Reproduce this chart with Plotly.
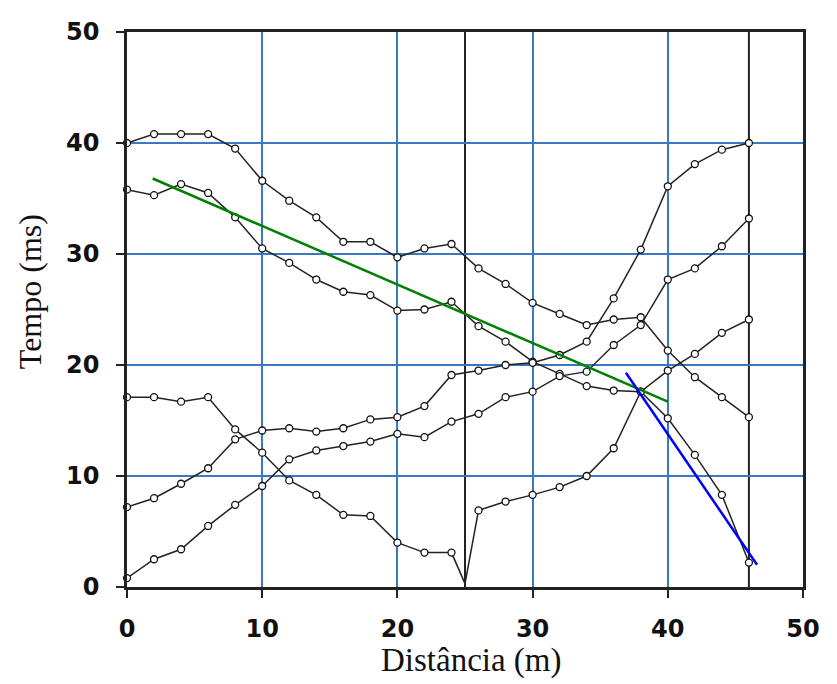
import plotly.graph_objects as go

# ---- data ----
dist = [0, 2, 4, 6, 8, 10, 12, 14, 16, 18, 20, 22, 24, 26, 28, 30, 32, 34, 36, 38, 40, 42, 44, 46]

tempo_a = [40.0, 40.8, 40.8, 40.8, 39.5, 36.6, 34.8, 33.3, 31.1, 31.1, 29.7, 30.5,
           30.9, 28.7, 27.3, 25.6, 24.6, 23.6, 24.1, 24.3, 21.3, 18.9, 17.1, 15.3]
tempo_b = [35.8, 35.3, 36.3, 35.5, 33.3, 30.5, 29.2, 27.7, 26.6, 26.3, 24.9, 25.0,
           25.7, 23.5, 22.1, 20.3, 19.2, 18.1, 17.7, 17.6, 15.2, 11.9, 8.3, 2.2]
tempo_c = [7.2, 8.0, 9.3, 10.7, 13.3, 14.1, 14.3, 14.0, 14.3, 15.1, 15.3, 16.3,
           19.1, 19.5, 20.0, 20.2, 20.9, 22.1, 26.0, 30.4, 36.1, 38.1, 39.4, 40.0]
tempo_d = [0.8, 2.5, 3.4, 5.5, 7.4, 9.1, 11.5, 12.3, 12.7, 13.1, 13.8, 13.5,
           14.9, 15.6, 17.1, 17.6, 19.0, 19.4, 21.8, 23.6, 27.7, 28.7, 30.7, 33.2]

# shot at 25 m: left branch, shot point, right branch
dist_e = [0, 2, 4, 6, 8, 10, 12, 14, 16, 18, 20, 22, 24, 25, 26, 28, 30, 32, 34, 36, 38, 40, 42, 44, 46]
tempo_e = [17.1, 17.1, 16.7, 17.1, 14.2, 12.1, 9.6, 8.3, 6.5, 6.4, 4.0, 3.1, 3.1,
           0.3, 6.9, 7.7, 8.3, 9.0, 10.0, 12.5, 17.6, 19.5, 21.0, 22.9, 24.1]

shot_points = [25, 46]
shot_e = 25

green_x = [1.9, 40.0]
green_y = [36.8, 16.7]
blue_x = [36.9, 46.6]
blue_y = [19.3, 2.0]

ticks = [0, 10, 20, 30, 40, 50]

# ---- figure ----
fig = go.Figure()

line_style = dict(color="#222222", width=1.5)
marker_style = dict(symbol="circle", size=7, color="white",
                    line=dict(color="#111111", width=1.3))

for xs, ys in [(dist, tempo_a), (dist, tempo_b), (dist, tempo_c), (dist, tempo_d)]:
    fig.add_trace(go.Scatter(x=xs, y=ys, mode="lines+markers", line=line_style,
                             marker=marker_style, cliponaxis=False, showlegend=False))

# line of shot-25 curve through the shot point, markers only at receivers
fig.add_trace(go.Scatter(x=dist_e, y=tempo_e, mode="lines", line=line_style,
                         cliponaxis=False, showlegend=False))
pts = [(x, y) for x, y in zip(dist_e, tempo_e) if x != shot_e]
fig.add_trace(go.Scatter(x=[p[0] for p in pts], y=[p[1] for p in pts], mode="markers",
                         marker=marker_style, cliponaxis=False, showlegend=False))

fig.add_trace(go.Scatter(x=green_x, y=green_y, mode="lines",
                         line=dict(color="#008000", width=2.5), showlegend=False))
fig.add_trace(go.Scatter(x=blue_x, y=blue_y, mode="lines",
                         line=dict(color="#0000ff", width=2.5), showlegend=False))

shapes = []
for sp in shot_points:
    shapes.append(dict(type="line", xref="x", yref="y", x0=sp, x1=sp, y0=0, y1=50,
                       line=dict(color="#222222", width=2), layer="below"))

tick_font = dict(family="DejaVu Sans", size=24, color="#111111", weight="bold")

axis_common = dict(
    range=[0, 50], tickvals=ticks, ticktext=[str(t) for t in ticks],
    showgrid=True, gridcolor="#3a78c4", gridwidth=2,
    zeroline=False, showline=True, linecolor="#222222", linewidth=2.5,
    mirror=True, ticks="outside", ticklen=8, tickwidth=2, tickcolor="#222222",
    tickfont=tick_font, fixedrange=True,
)

fig.update_layout(
    width=837, height=684,
    margin=dict(l=127, r=34, t=32, b=97, pad=0),
    paper_bgcolor="white", plot_bgcolor="white",
    xaxis=dict(axis_common, ticklabelstandoff=10),
    yaxis=dict(axis_common, ticklabelstandoff=12),
    shapes=shapes,
    annotations=[
        dict(text="Distância (m)", xref="paper", yref="paper", x=0.51, y=-0.1333,
             xanchor="center", yanchor="middle", showarrow=False,
             font=dict(family="Liberation Serif", size=33, color="#111111")),
        dict(text="Tempo (ms)", xref="paper", yref="paper", x=-0.1435, y=0.533,
             xanchor="center", yanchor="middle", showarrow=False, textangle=-90,
             font=dict(family="Liberation Serif", size=32, color="#111111")),
    ],
)

fig.write_html("out.html")
